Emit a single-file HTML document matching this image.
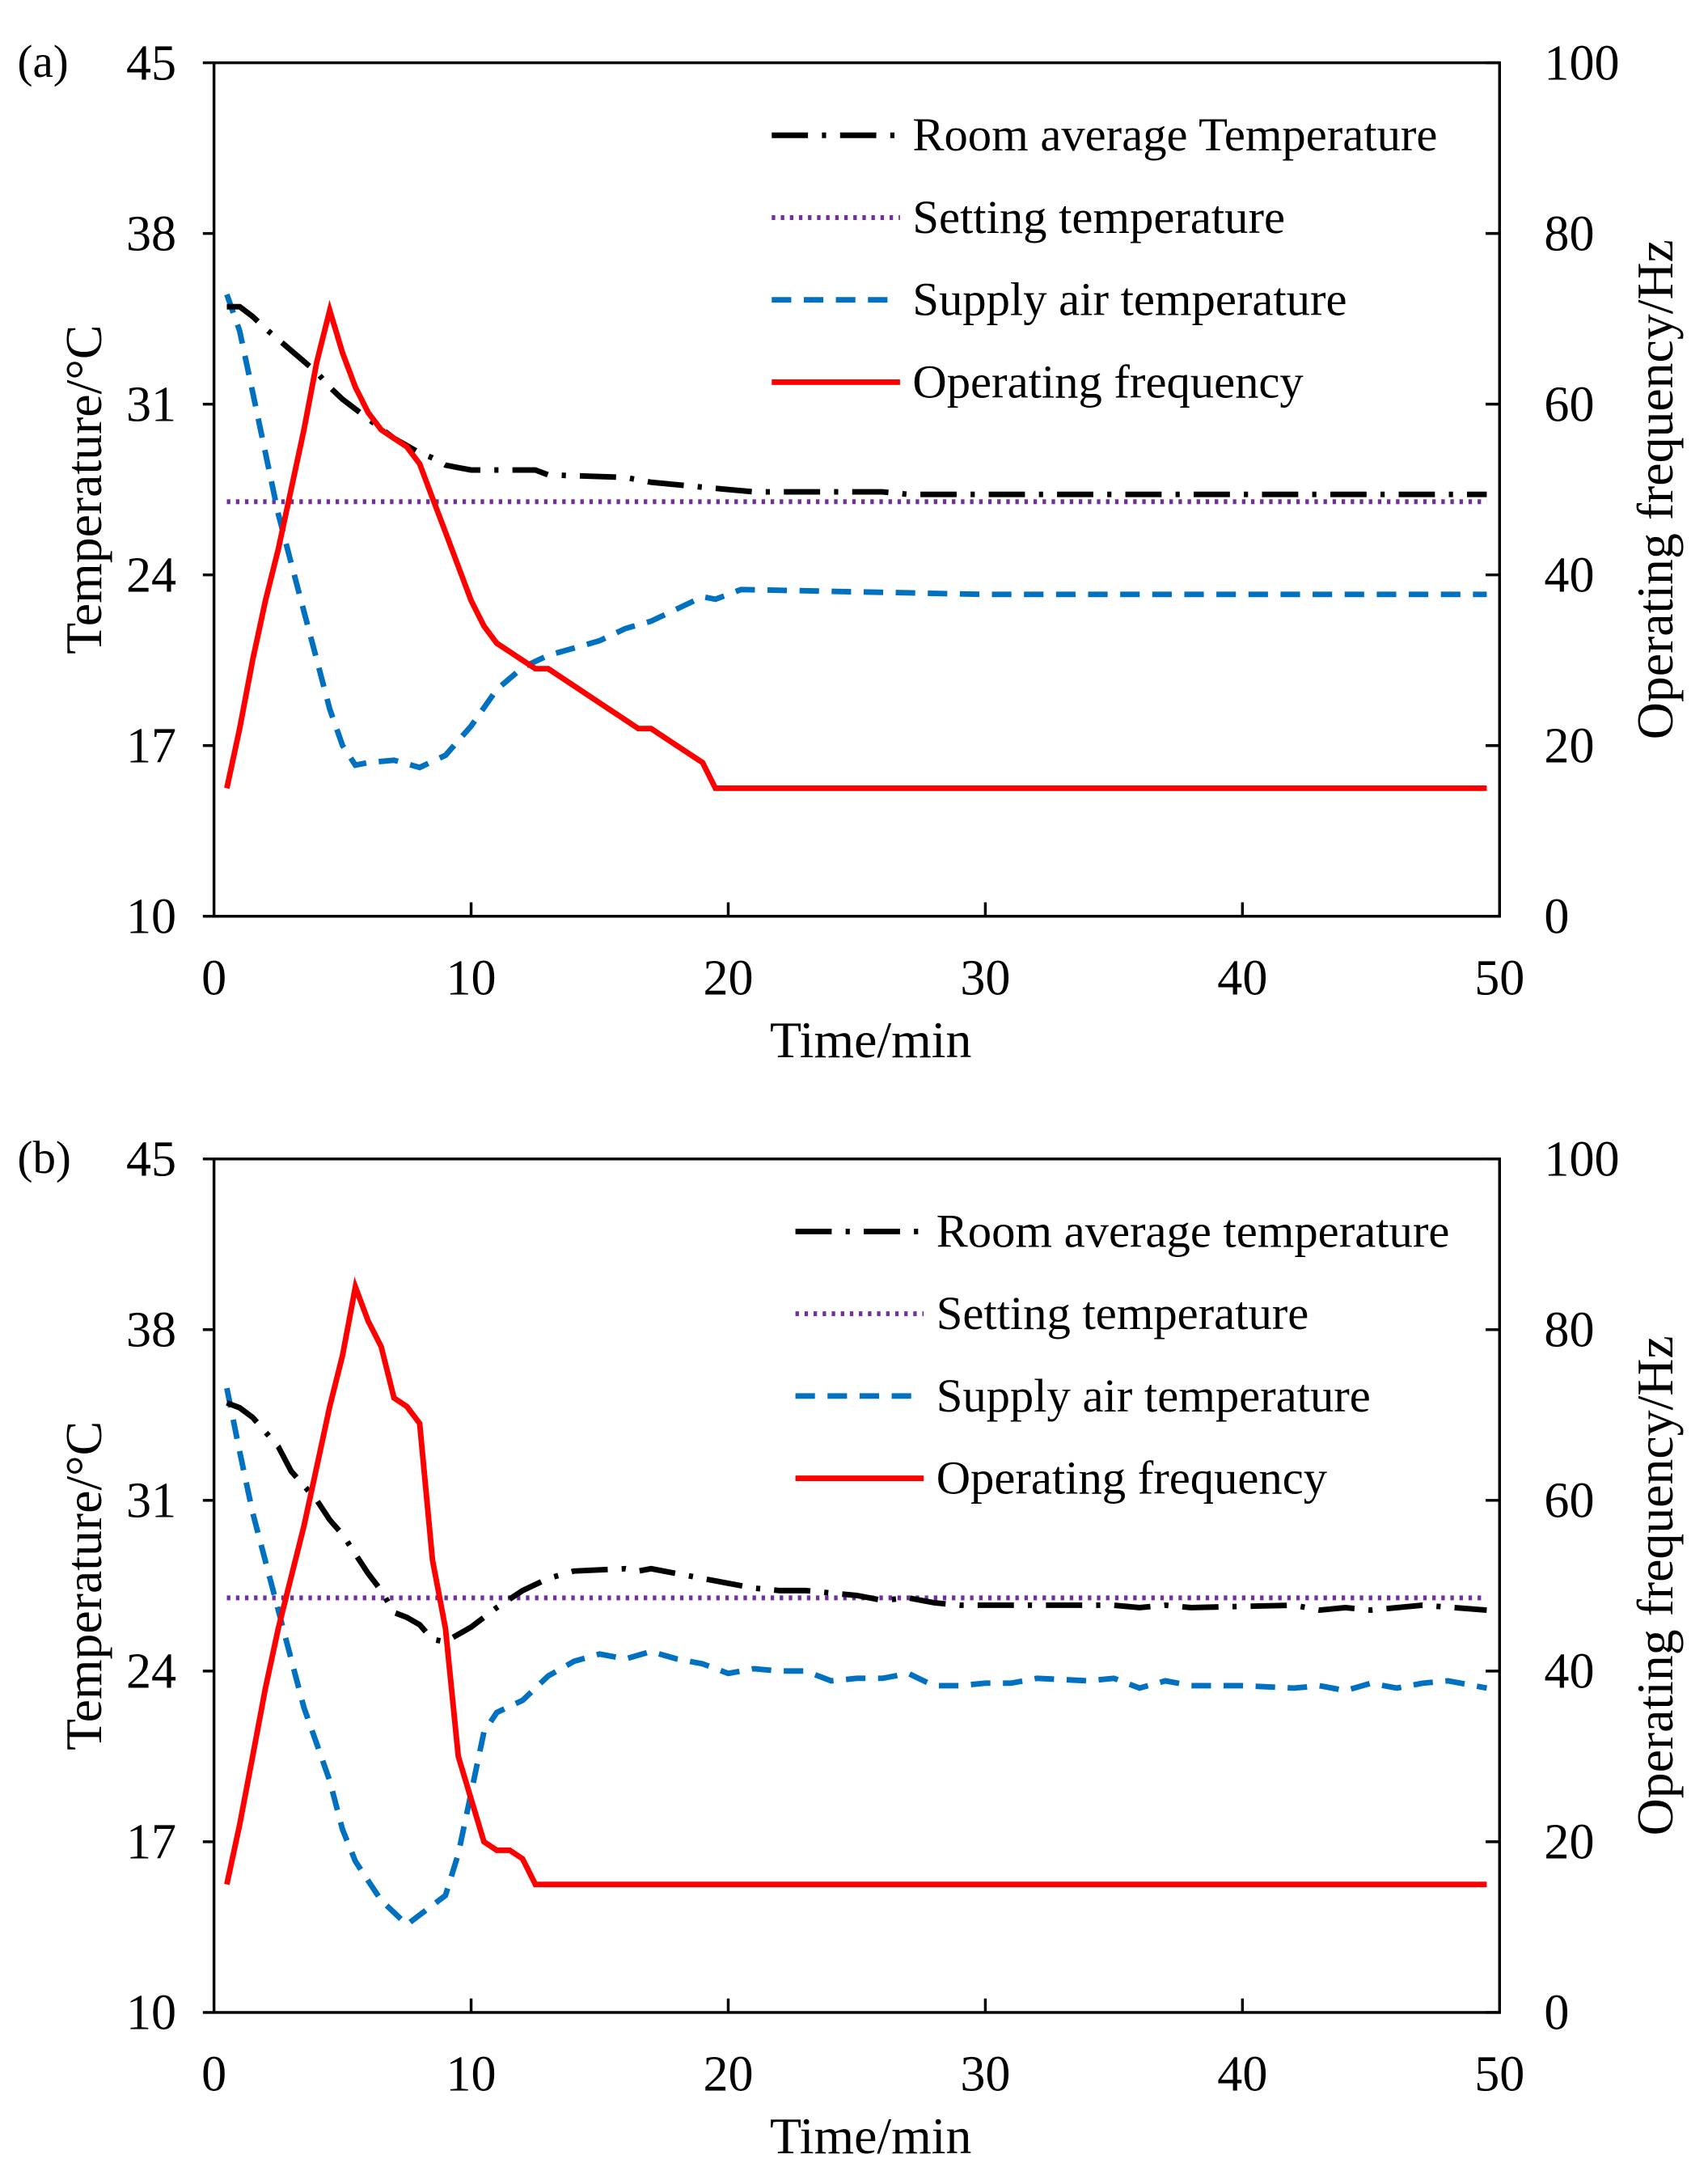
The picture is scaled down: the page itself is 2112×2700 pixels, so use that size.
<!DOCTYPE html>
<html><head><meta charset="utf-8"><style>
html,body{margin:0;padding:0;background:#fff}
svg{display:block}
text{font-family:"Liberation Serif","DejaVu Serif",serif;fill:#000}
</style></head><body>
<svg id="fig" width="2112" height="2700" viewBox="0 0 1224 1566" xmlns="http://www.w3.org/2000/svg"></svg>
<script>
const xTicks=[0,10,20,30,40,50];
const tTicks=[10,17,24,31,38,45];
const fTicks=[0,20,40,60,80,100];
const setTemp=27;
const legendLabelsA=["Room average Temperature","Setting temperature","Supply air temperature","Operating frequency"];
const legendLabelsB=["Room average temperature","Setting temperature","Supply air temperature","Operating frequency"];

const roomA_x=[0.5,1,1.5,2,3,4,4.5,5,6,6.5,7,7.5,8,8.5,9,9.5,10,12.5,13,16,17,19,20,21,26,27,49.5];
const roomA_y=[35,35,34.6,34.1,33.2,32.3,31.7,31.2,30.4,30,29.6,29.3,29,28.8,28.5,28.4,28.3,28.3,28.1,28,27.8,27.6,27.5,27.4,27.4,27.3,27.3];
const supA_x=[0.5,1,1.5,2,2.5,3,3.5,4,4.5,5,5.5,6,7,8,9,10,11,12,13,14,15,16,17,18,19,19.5,20.5,30,49.5];
const supA_y=[35.5,34,31.5,29,26.5,24.5,22.5,20.5,18.5,17,16.2,16.3,16.4,16.1,16.6,17.8,19.3,20.2,20.7,21,21.3,21.8,22.1,22.6,23.1,23,23.4,23.2,23.2];
const frqA_x=[0.5,1,1.5,2,2.5,3,3.5,4,4.5,5,5.5,6,6.5,7,7.5,8,8.5,9,9.5,10,10.5,11,12,12.5,13,14,15,16,16.5,17,18,19,19.5,49.5];
const frqA_y=[15,22,30,37,43,50,57,65,71,66,62,59,57,56,55,53,49,45,41,37,34,32,30,29,29,27,25,23,22,22,20,18,15,15];

const roomB_x=[0.5,1,1.5,2,2.5,3,3.5,4,4.5,5,5.5,6,6.5,7,7.5,8,8.5,9,10,11,12,13,14,16,16.5,17,18,19,20,21,22,23,25,26,27,28,29,30,35,36,37,38,42,43,44,45,47,49.5];
const roomB_y=[35,34.8,34.4,33.8,33.2,32.2,31.6,31,30.2,29.6,28.8,28,27.3,26.4,26.2,25.9,25.3,25.2,25.8,26.6,27.3,27.8,28.1,28.2,28.1,28.2,28,27.8,27.6,27.4,27.3,27.3,27.1,26.9,27,26.8,26.7,26.7,26.7,26.6,26.7,26.6,26.7,26.5,26.6,26.5,26.7,26.5];
const supB_x=[0.5,1,1.5,2,2.5,3,3.5,4,4.5,5,5.5,6,6.5,7,7.5,8,9,9.5,10,10.5,11,12,13,14,15,16,17,18,19,20,21,22,23,24,25,26,27,28,29,30,31,32,34,35,36,37,38,40,42,43,44,45,46,47,48,49.5];
const supB_y=[35.6,33,30.5,28.5,26.5,24.5,22.5,21,19.5,17.5,16.2,15.4,14.6,14.1,13.6,14,14.8,16.5,19,21.5,22.3,22.8,23.8,24.4,24.7,24.5,24.8,24.5,24.3,23.9,24.1,24,24,23.6,23.7,23.7,23.9,23.4,23.4,23.5,23.5,23.7,23.6,23.7,23.3,23.6,23.4,23.4,23.3,23.4,23.2,23.5,23.3,23.5,23.6,23.3];
const frqB_x=[0.5,1,1.5,2,2.5,3,3.5,4,4.5,5,5.5,6,6.5,7,7.5,8,8.5,9,9.5,10,10.5,11,11.5,12,12.5,49.5];
const frqB_y=[15,22,30,38,45,51,57,64,71,77,85,81,78,72,71,69,53,45,30,25,20,19,19,18,15,15];

const NS="http://www.w3.org/2000/svg";
const svg=document.getElementById('fig');
function mk(tag,attrs,parent){const e=document.createElementNS(NS,tag);for(const k in attrs)e.setAttribute(k,attrs[k]);(parent||svg).appendChild(e);return e;}

function panel(id,top,label,room_x,room_y,sup_x,sup_y,frq_x,frq_y,legLabels,legX){
  const L=153,R=1075,T=top,B=top+612;
  const g=mk('g',{});
  
  
  const sx=v=>L+(v/50)*(R-L);
  const st=v=>B-(v-10)/35*(B-T);
  const sf=v=>B-(v/100)*(B-T);
  const frame=mk('rect',{x:L,y:T,width:R-L,height:B-T,fill:'none',stroke:'#000','stroke-width':2},g);
  
  
  const pl=mk('text',{x:12,y:T+10,'font-size':33},g);pl.textContent=label;
  
  
  xTicks.forEach(v=>{
    if(v>0&&v<50)mk('line',{x1:sx(v),x2:sx(v),y1:B,y2:B-10,stroke:'#000','stroke-width':2},g);
    const t=mk('text',{x:sx(v),y:B+56,'font-size':36,'text-anchor':'middle'},g);t.textContent=v;
    
    
  });
  tTicks.forEach(v=>{
    mk('line',{x1:L,x2:L-8,y1:st(v),y2:st(v),stroke:'#000','stroke-width':2},g);
    const t=mk('text',{x:126,y:st(v)+12,'font-size':36,'text-anchor':'end'},g);t.textContent=v;
    
    
  });
  fTicks.forEach(v=>{
    mk('line',{x1:R,x2:R-10,y1:sf(v),y2:sf(v),stroke:'#000','stroke-width':2},g);
    const t=mk('text',{x:1107,y:sf(v)+12,'font-size':36},g);t.textContent=v;
    
    
  });
  const xt=mk('text',{x:624,y:B+101,'font-size':37,'text-anchor':'middle'},g);xt.textContent='Time/min';
  
  
  const ly=(T+B)/2;
  const yt=mk('text',{x:0,y:0,'font-size':37,'text-anchor':'middle',transform:`translate(72,${ly}) rotate(-90)`},g);yt.textContent='Temperature/°C';
  
  
  const rt=mk('text',{x:0,y:0,'font-size':37,'text-anchor':'middle',transform:`translate(1199,${ly}) rotate(-90)`},g);rt.textContent='Operating frequency/Hz';
  
  
  const path=(xs,ys,f)=>xs.map((x,i)=>(i?'L':'M')+sx(x).toFixed(1)+','+f(ys[i]).toFixed(1)).join(' ');
  const s1=mk('line',{x1:sx(0.5),x2:sx(49.5),y1:st(setTemp),y2:st(setTemp),stroke:'#7030a0','stroke-width':3.5,'stroke-dasharray':'2.5 4'},g);
  
  
  const s2=mk('path',{d:path(sup_x,sup_y,st),fill:'none',stroke:'#0070c0','stroke-width':4,'stroke-dasharray':'14 9'},g);
  
  
  const s3=mk('path',{d:path(room_x,room_y,st),fill:'none',stroke:'#000','stroke-width':4,'stroke-dasharray':'26 10 3 10'},g);
  
  
  const s4=mk('path',{d:path(frq_x,frq_y,sf),fill:'none',stroke:'#ff0000','stroke-width':4},g);
  
  
  const styles=[{stroke:'#000',da:'26 10 3 10'},{stroke:'#7030a0',da:'2.5 4'},{stroke:'#0070c0',da:'14 9'},{stroke:'#ff0000',da:''}];
  legLabels.forEach((lab,i)=>{
    const y=T+52+i*59;
    const e=mk('g',{},g);
    
    
    const a={x1:legX,x2:legX+92,y1:y,y2:y,stroke:styles[i].stroke,'stroke-width':i===1?3.5:4};
    if(styles[i].da)a['stroke-dasharray']=styles[i].da;
    mk('line',a,e);
    const t=mk('text',{x:legX+101,y:y+11,'font-size':34},e);t.textContent=lab;
  });
}
panel('a',45,'(a)',roomA_x,roomA_y,supA_x,supA_y,frqA_x,frqA_y,legendLabelsA,553);
panel('b',831,'(b)',roomB_x,roomB_y,supB_x,supB_y,frqB_x,frqB_y,legendLabelsB,570);
</script>
</body></html>
